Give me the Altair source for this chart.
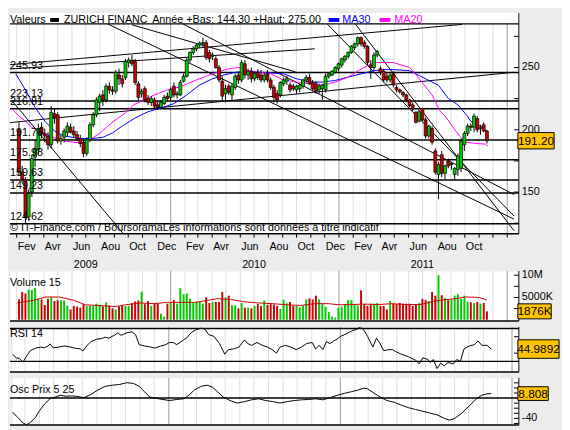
import altair as alt
import pandas as pd

# ---------------- data ----------------
opens = [200,166,160,130,150,178,184,202,197,195, 188,213,212,191,194,198,202,199,196,193,
         190,181,192,204,212,222,228,224,235,232, 231,244,241,242,254,256,255,237,229,233,
         225,222,224,220,218,221,227,226,235,228, 228,239,243,256,262,265,268,269,270,262,
         259,257,250,239,229,235,228,234,244,240, 253,244,247,241,246,244,240,245,240,234,
         229,228,237,239,236,235,232,233,235,240, 242,238,237,232,233,232,243,244,246,249,
         252,256,259,262,266,269,274,270,267,252, 250,260,249,247,243,240,245,234,232,230,
         228,224,220,214,207,217,208,195,201,183, 164,180,165,175,172,164,168,169,188,197,
         203,202,209,201,204,199]
highs = [206,171,162,152,180,192,205,206,201,198, 219,217,214,196,201,206,205,203,199,196,
         192,194,206,214,226,229,232,237,238,235, 248,249,244,257,258,260,257,239,233,235,
         228,227,226,223,224,228,230,234,238,231, 240,245,258,263,267,269,271,274,272,264,
         262,259,252,243,236,237,237,245,247,256, 256,249,250,247,249,248,246,248,242,236,
         232,239,242,243,238,237,236,237,241,244, 245,240,239,237,237,245,246,248,251,254,
         258,260,263,268,270,275,275,272,268,256, 262,264,251,249,246,246,247,236,233,231,
         229,225,222,215,216,218,210,204,203,185, 174,183,172,177,174,170,181,193,199,205,
         205,213,211,204,206,200]
lows = [163,157,124.6,127,146,170,180,193,190,184, 185,205,189,188,190,195,197,194,191,186,
        178,179,190,202,210,215,219,222,229,228, 229,236,234,240,250,251,236,224,226,222,
        220,219,217,216,217,220,223,224,226,225, 227,238,242,254,260,263,266,266,256,254,
        256,249,238,223,222,228,224,232,237,238, 241,240,238,239,240,238,238,238,232,222,
        221,226,235,236,230,231,229,230,233,238, 236,231,229,229,224,230,241,243,245,247,
        250,254,257,261,264,267,267,265,252,241, 248,258,244,238,238,238,234,230,229,226,
        222,218,215,205,206,207,193,193,188,164, 144.3,162,160,169,168,160,163,166,183,195,
        199,198,198,196,198,189]
closes = [166,160,130,149,177,185,201,197,195,188, 214,210,191,193,199,203,198,196,193,189,
          181,192,204,212,224,227,224,235,232,231, 246,241,237,255,256,253,238,226,231,224,
          222,225,219,218,222,226,225,232,228,229, 238,243,256,262,265,268,269.5,270,258,257,
          260,250,240,227,233,230,235,243,240,254, 244,247,241,245,242,240,244,240,234,226,
          224,238,240,241,232,233,235,236,240,242, 237,233,231,235,236,243,245,247,250,253,
          257,259,262,267,269,274,269,267,254,250, 260,263,246,240,240,244,236,232,230.5,228,
          224,219.5,217,206,214.5,208,195,203,190,166, 172,165,171,171,173,169,179,191,197,203,
          202,211,200,202,199,191.2]
volumes_k = [4560,6200,5900,6800,6700,7100,4700,4560,3300,4700, 5100,4200,4400,4400,4300,3200,2300,3100,2950,2700,
             3500,3100,3100,3100,3600,3350,3000,3900,3200,2550, 2300,2950,3100,3100,3100,3700,4100,4300,6300,3500,
             4200,3100,3600,3700,1360,700,3600,3760,4400,3600, 7100,5700,5900,4700,3760,4000,4100,3600,5000,3760,
             4000,4000,4000,6200,5000,5400,3300,3200,2550,3760, 2700,2700,2550,3100,3500,3100,4300,3350,3500,3400,
             3100,2400,4500,3700,4000,3100,3100,2800,3100,4560, 4800,4560,5400,4560,3600,2900,1750,700,470,2700,
             2950,3500,4400,4400,3500,3200,6600,3500,3100,3600, 3600,3760,3100,3100,2300,4200,3600,3500,3760,3600,
             3600,3600,3100,3400,3760,4700,4400,4200,6200,5400, 10000,5500,4900,4400,4560,5400,5700,4700,5400,4000,
             3900,3760,4000,3600,3760,1876]

# moving averages / indicators: (week offset from first candle, value)
ma30_w = [-1,2,5,8,11,14,19,23,26,29,32,36,40,44,48,52,56,60,63,67,71,75,82,86,90,94,98,102,106,110,
          113,116,121,124,127,130,133,136,139,140,142,144,145]
ma30_v = [245,232,218,207,199,195,193,193,194,197.5,203,209.5,214.5,217.5,221,228,236,241,243.6,246.2,
          246.2,246.2,244.9,241,238.3,238.3,239.6,242.3,244.9,247.5,248.3,248.3,247.5,243.6,239.6,235.7,
          225.2,220,210.8,206.8,204.2,201.6,197.6]
ma20_w = [-2.3,0,2,4,6,8,11,14,17,20,22.5,25,28,30.5,33,35.5,38,42,46,50,55,60,65,68,71,75,78,82,86,90,
          94,98,102,106,110,113,116,121,122.5,125.5,128,130.5,132.5,134.5,136.5,138.5,141.5,144.5,145.3]
ma20_v = [217,211,207,202,199.5,197,193.5,191,190,189,193,197,204,209,213.5,220,223,228,232,234.5,
          240,245,249,250,247.5,246,245,240,238.3,237,235.7,238.3,242.3,248.8,254,254,254,250,246,236,
          228,215,209.5,202,195,190,189,188.5,187]
volma_w = [-0.5,4.9,8.1,12.5,16.8,20.6,26.6,29.8,33.1,37.4,41.8,46.1,50.4,54.8,61.3,65.6,70.0,74.3,78.6,83.0,
           87.3,91.6,96.0,99.2,102.5,106.8,111.2,115.5,119.8,124.2,128.5,130.7,135.0,138.3,142.6,145.0]
volma_v = [3760,4400,5100,5100,4400,3350,3100,2950,3350,3760,3600,3900,3900,3900,4700,4550,4000,3760,3600,3350,
           3200,3600,3600,3350,3400,3500,3400,3600,3400,3400,4100,4400,4700,5100,5000,4400]
rsi_w = [-0.5,0.6,1.6,2.7,3.8,4.9,6.5,8.1,9.2,10.3, 10.9,11.9,13.6,15.2,16.8,18.4,20.1,20.9,22.2,23.3,
         25.0,26.6,27.7,28.7,30.4,31.5,32.5,34.2,35.8,36.9, 38.0,39.6,41.2,42.8,44.5,46.1,47.2,48.3,49.4,50.4,
         51.5,52.6,53.7,55.3,56.9,58.0,59.1,60.7,62.4,64.0, 65.1,66.7,68.3,70.0,71.0,72.1,73.8,75.4,77.0,78.6,
         79.7,80.8,82.4,84.1,85.7,87.3,88.9,90.6,91.6,92.7, 93.8,94.9,96.0,97.1,98.2,99.2,100.9,102.5,104.1,105.2,
         106.3,107.4,109.0,110.1,111.2,112.3,113.9,115.0,116.0,117.7, 119.8,122.0,123.1,124.2,125.8,126.3,127.4,128.5,129.6,130.7,
         131.8,133.4,134.5,135.6,136.7,138.3,139.9,141.0,142.1,143.7, 145.0]
rsi_v = [38.7,34.4,33.5,29.1,36.5,43.0,46.1,47.4,46.5,48.7, 51.3,46.5,47.4,48.7,47.8,46.1,45.2,42.6,49.5,53.9,
         56.9,57.8,59.5,58.2,61.7,64.7,61.7,64.7,66.0,62.6, 50.4,48.7,47.8,46.1,48.7,50.4,53.0,53.0,50.4,53.0,
         56.1,59.1,64.7,68.7,70.4,69.1,62.6,60.4,51.7,38.7, 44.3,45.2,47.4,56.1,51.7,49.5,53.0,49.5,47.4,43.9,
         40.0,47.4,49.5,47.4,44.3,47.4,51.7,53.0,45.2,49.5, 44.3,53.9,51.7,54.8,57.4,60.4,63.4,66.9,69.1,72.1,
         67.8,60.4,47.4,58.2,51.7,43.0,44.3,44.3,41.7,38.7, 35.7,31.3,27.0,34.4,32.2,28.7,32.2,21.3,27.8,24.4,
         28.7,27.0,32.2,30.0,45.2,48.7,50.4,54.8,49.5,49.5, 44.99]
osc_w = [-0.5,1.1,2.7,3.8,4.9,6.5,7.6,9.2,10.9,12.5, 14.1,15.7,17.4,19.0,21.2,23.3,25.5,27.7,29.8,32.0,
         34.2,36.3,38.0,39.6,41.2,43.9,47.2,49.4,51.5,53.1, 54.8,56.9,58.6,60.2,61.8,63.5,65.6,67.8,70.0,72.1,
         74.3,76.5,78.6,80.8,83.0,85.1,87.3,89.5,91.6,93.8, 96.0,98.2,100.3,102.5,104.7,106.3,107.4,109.0,111.2,113.3,
         115.5,117.7,119.8,122.0,124.2,126.3,128.5,130.7,132.3,133.9, 136.1,138.3,140.5,142.1,143.7,145.0]
osc_v = [-28.1,-37.9,-49.1,-52.6,-48.4,-37.9,-26.0,-11.9,-1.4,2.1, 5.6,3.5,4.2,3.5,0.7,7.0,16.1,23.2,25.3,26.7,
         30.2,28.8,23.2,12.6,2.1,-1.4,-4.9,-2.8,-1.4,5.6, 16.1,23.2,25.3,21.8,12.6,2.1,-4.9,-9.8,-7.0,-3.5,
         -1.4,-4.9,-7.0,-9.8,-7.0,-4.9,-3.5,-2.8,-1.4,-3.5, 0.7,5.6,9.1,12.6,16.1,19.6,18.2,11.2,2.1,-4.9,
         -8.4,-14.0,-18.9,-22.5,-26.0,-29.5,-33.0,-40.0,-43.5,-40.0, -29.5,-15.4,-1.4,5.6,8.4,8.808]

levels = [245.93, 223.13, 216.81, 191.76, 175.98, 159.63, 149.23, 124.62]
level_labels = ["245.93", "223.13", "216.81", "191.76", "175.98", "159.63", "149.23", "124.62"]

# trend lines: two end points each (week offset, price)
trend_id = ["D1", "D1", "L2", "L2", "P", "P", "U1", "U1", "U2", "U2", "Q", "Q",
            "A", "A", "S2", "S2", "P1", "P1"]
trend_w = [-2.0, 32.3, -3.79, 153.4, 50.8, 153.4, -3.79, 137.3, -2.9, 91.65, 27.5, 153.4,
           104.2, 153.4, 95.5, 153.4, 35.0, 85.7]
trend_p = [222.8, 116.6, 205.5, 246.2, 285.0, 148.0, 252.0, 284.6, 248.8, 265.0, 285.0, 128.3,
           285.0, 118.9, 285.0, 130.7, 284.3, 246.5]

price_ticks = [125, 150, 175, 200, 225, 250, 275]
price_labels = ["150", "200", "250"]
month_names = ["", "Fev", "", "Avr", "", "Jun", "", "Aou", "", "Oct", "", "Dec"]
years = ["2009", "2010", "2011"]

# ---------------- frames ----------------
first = pd.Timestamp("2009-02-06")


def wd(w):
    return first + pd.Timedelta(days=7 * w)


df = pd.DataFrame({"date": [wd(i) for i in range(len(closes))], "open": opens, "high": highs,
                   "low": lows, "close": closes, "vol": volumes_k})
ma30 = pd.DataFrame({"date": [wd(w) for w in ma30_w], "v": ma30_v})
ma20 = pd.DataFrame({"date": [wd(w) for w in ma20_w], "v": ma20_v})
volma = pd.DataFrame({"date": [wd(w) for w in volma_w], "v": volma_v})
rsi = pd.DataFrame({"date": [wd(w) for w in rsi_w], "v": rsi_v})
osc = pd.DataFrame({"date": [wd(w) for w in osc_w], "v": osc_v})
lev = pd.DataFrame({"p": levels, "lab": level_labels})
trend = pd.DataFrame({"id": trend_id, "date": [wd(w) for w in trend_w], "p": trend_p})
months = pd.DataFrame({"m": pd.date_range("2009-02-01", "2012-01-01", freq="MS")})
lab_months = pd.date_range("2009-02-01", "2011-10-01", freq="2MS")
mlabels = pd.DataFrame({"m": lab_months, "t": [month_names[d.month - 1] for d in lab_months]})
yrs = pd.DataFrame({"d": [pd.Timestamp(f"{y}-07-01") for y in years], "t": years})
one = pd.DataFrame({"a": [0]})

W = 519
GREEN = "#00CC00"
RED = "#CC0000"
BOX = "#FFC400"
GRAY = "#ECECEC"
BOXSHAPE = "M0,-0.45H2V0.45H0Z"

xscale = alt.Scale(domain=[alt.DateTime(year=2009, month=1, date=28, hours=3),
                           alt.DateTime(year=2012, month=1, date=15, hours=14)])
pscale = alt.Scale(domain=[91.34, 293.70], nice=False, zero=False)
vscale = alt.Scale(domain=[-290, 10950], nice=False, zero=False)
rscale = alt.Scale(domain=[17.1, 72.0], nice=False, zero=False)
oscale = alt.Scale(domain=[-52.9, 39.8], nice=False, zero=False)

X = alt.X("date:T", scale=xscale, axis=None)
updown = alt.condition("datum.close >= datum.open", alt.value(GREEN), alt.value(RED))


def grid_layer(y1=None, y2=None):
    enc = dict(x=alt.X("m:T", scale=xscale, axis=None),
               color=alt.condition("month(datum.m) == 0", alt.value("#9C9C9C"), alt.value("#DEDEDE")))
    if y1 is not None:
        enc["y"] = alt.value(y1)
        enc["y2"] = alt.value(y2)
    return alt.Chart(months).mark_rule(strokeWidth=1).encode(**enc)


def in_ticks(values, scale):
    return alt.Chart(pd.DataFrame({"t": values})).mark_rule(color="black").encode(
        x=alt.value(W - 5), x2=alt.value(W), y=alt.Y("t:Q", scale=scale, axis=None))


def right_labels(values, texts, scale):
    return alt.Chart(pd.DataFrame({"v": values, "t": texts})).mark_text(
        align="left", baseline="middle", fontSize=11, color="black").encode(
        x=alt.value(W + 3), y=alt.Y("v:Q", scale=scale, axis=None), text="t:N")


def value_box(val, txt, scale, width):
    d = pd.DataFrame({"v": [val], "t": [txt]})
    b = alt.Chart(d).mark_point(shape=BOXSHAPE, size=width * width, filled=True, fill=BOX,
                                stroke="black", strokeWidth=1, opacity=1).encode(
        x=alt.value(W - 1), y=alt.Y("v:Q", scale=scale, axis=None))
    t = alt.Chart(d).mark_text(fontSize=12, color="black", align="center", baseline="middle").encode(
        x=alt.value(W - 1 + width / 2), y=alt.Y("v:Q", scale=scale, axis=None), text="t:N")
    return [b, t]


def label(txt, x, y, color="black", size=11):
    return alt.Chart(one).mark_text(align="left", baseline="middle", fontSize=size, color=color).encode(
        x=alt.value(x), y=alt.value(y), text=alt.value(txt))


def swatch(x1, x2, y, color):
    return alt.Chart(one).mark_rule(color=color, strokeWidth=4).encode(
        x=alt.value(x1), x2=alt.value(x2), y=alt.value(y))


def hline(y, width=1.5):
    return alt.Chart(one).mark_rule(color="black", strokeWidth=width).encode(y=alt.value(y))


def vborder(y1=None, y2=None):
    enc = dict(x=alt.value(W))
    if y1 is not None:
        enc["y"] = alt.value(y1)
        enc["y2"] = alt.value(y2)
    return alt.Chart(one).mark_rule(color="black", strokeWidth=1).encode(**enc)


# ---------------- main price panel (header + plot + date labels) ----------------
TOP, BOT = 11, 225
main = alt.layer(
    alt.Chart(one).mark_rect(color="white").encode(
        x=alt.value(0), x2=alt.value(W + 1), y=alt.value(0), y2=alt.value(BOT)),
    grid_layer(TOP, BOT),
    alt.Chart(lev).mark_rule(color="black", strokeWidth=1.5).encode(
        y=alt.Y("p:Q", scale=pscale, axis=None)),
    alt.Chart(trend).mark_line(color="black", strokeWidth=1, clip=True).encode(
        x=X, y=alt.Y("p:Q", scale=pscale, axis=None), detail="id:N"),
    alt.Chart(ma30).mark_line(color="#0000FF", strokeWidth=1, clip=True).encode(
        x=X, y=alt.Y("v:Q", scale=pscale, axis=None)),
    alt.Chart(ma20).mark_line(color="#FF00FF", strokeWidth=1, clip=True).encode(
        x=X, y=alt.Y("v:Q", scale=pscale, axis=None)),
    alt.Chart(df).mark_rule(color="black", strokeWidth=1).encode(
        x=X, y=alt.Y("low:Q", scale=pscale, axis=None), y2="high:Q"),
    alt.Chart(df).mark_bar(size=3, stroke="black", strokeWidth=0.7).encode(
        x=X, y=alt.Y("open:Q", scale=pscale, axis=None), y2="close:Q", color=updown),
    alt.Chart(lev).mark_text(align="left", baseline="middle", dy=-7, fontSize=11, color="black").encode(
        x=alt.value(0), y=alt.Y("p:Q", scale=pscale, axis=None), text="lab:N"),
    label("© IT-Finance.com / BoursoramaLes informations sont données à titre indicatif", 0, 219),
    hline(TOP), hline(BOT),
    vborder(0, BOT),
    in_ticks(price_ticks, pscale),
    right_labels([150, 200, 250], price_labels, pscale),
    *value_box(191.2, "191.20", pscale, 37),
    # header
    label("Valeurs", 0, 7),
    swatch(41, 50, 7, "black"),
    label("ZURICH FINANC", 55, 7),
    label("Année +Bas: 144.30 +Haut: 275.00", 145, 7),
    swatch(325, 336, 7, "#0000FF"),
    label("MA30", 339, 7, "#0000FF"),
    swatch(377, 388, 7, "#FF00FF"),
    label("MA20", 392, 7, "#FF00FF"),
    # date axis
    alt.Chart(months).mark_rule(color="black").encode(
        x=alt.X("m:T", scale=xscale, axis=None), y=alt.value(BOT), y2=alt.value(BOT + 4)),
    alt.Chart(mlabels).mark_text(align="left", baseline="middle", fontSize=11, color="black", dx=1).encode(
        x=alt.X("m:T", scale=xscale, axis=None), y=alt.value(BOT + 14), text="t:N"),
    alt.Chart(yrs).mark_text(fontSize=11, color="black", baseline="middle").encode(
        x=alt.X("d:T", scale=xscale, axis=None), y=alt.value(BOT + 31.5), text="t:N"),
).properties(width=W, height=257, view=alt.ViewBackground(fill=GRAY, stroke="transparent"))

# ---------------- volume panel ----------------
volume = alt.layer(
    grid_layer(),
    alt.Chart(df).mark_bar(size=2).encode(
        x=X, y=alt.Y("vol:Q", scale=vscale, axis=None), color=updown),
    alt.Chart(volma).mark_line(color=RED, strokeWidth=1, clip=True).encode(
        x=X, y=alt.Y("v:Q", scale=vscale, axis=None)),
    hline(51),
    vborder(),
    label("Volume 15", 0, 12),
    in_ticks([2500, 5000, 7500, 10000], vscale),
    right_labels([5000, 10000], ["5000K", "10M"], vscale),
    *value_box(1876, "1876K", vscale, 34),
).properties(width=W, height=51)

# ---------------- RSI panel ----------------
rsi_panel = alt.layer(
    grid_layer(),
    alt.Chart(pd.DataFrame({"l": [70, 30]})).mark_rule(color="black", strokeWidth=1.5).encode(
        y=alt.Y("l:Q", scale=rscale, axis=None)),
    alt.Chart(rsi).mark_line(color="black", strokeWidth=1, clip=True).encode(
        x=X, y=alt.Y("v:Q", scale=rscale, axis=None)),
    hline(46),
    vborder(),
    label("RSI 14", 0, 7),
    in_ticks([40, 60], rscale),
    *value_box(44.99, "44.9892", rscale, 42),
).properties(width=W, height=46)

# ---------------- Osc panel ----------------
osc_panel = alt.layer(
    grid_layer(),
    alt.Chart(pd.DataFrame({"l": [0]})).mark_rule(color="black", strokeWidth=1.5).encode(
        y=alt.Y("l:Q", scale=oscale, axis=None)),
    alt.Chart(osc).mark_line(color="black", strokeWidth=1, clip=True).encode(
        x=X, y=alt.Y("v:Q", scale=oscale, axis=None)),
    hline(48),
    vborder(),
    label("Osc Prix 5 25", 0, 12),
    in_ticks([-50, -40, -30, -20, -10, 10, 20, 30], oscale),
    right_labels([-40], ["-40"], oscale),
    *value_box(8.808, "8.808", oscale, 31),
).properties(width=W, height=48)

chart = alt.vconcat(main, volume, rsi_panel, osc_panel, spacing=6, bounds="flush").properties(
    padding=0, background=GRAY,
).configure(font="Liberation Sans", view=alt.ViewConfig(stroke="transparent", fill="white"))

chart.save("out.html", embed_options={"renderer": "svg", "actions": False})
